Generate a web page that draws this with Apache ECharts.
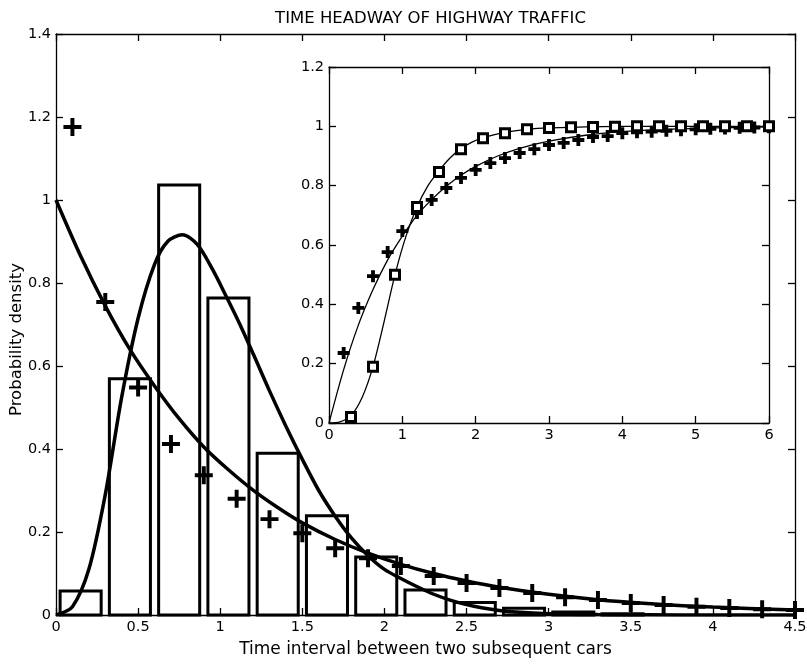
<!DOCTYPE html>
<html>
<head>
<meta charset="utf-8">
<script src="https://cdn.jsdelivr.net/npm/echarts@6/dist/echarts.min.js"></script>
<style>
html,body{margin:0;padding:0;background:#fff;}
#chart{width:807px;height:664px;}
</style>
</head>
<body>
<div id="chart"></div>
<script>
// ---- Main plot data ----
var binCenters = [0.15, 0.45, 0.75, 1.05, 1.35, 1.65, 1.95, 2.25, 2.55, 2.85, 3.15, 3.45];
var binHeights = [0.058, 0.569, 1.036, 0.764, 0.39, 0.239, 0.14, 0.06, 0.03, 0.016, 0.007, 0.003];

var plusX = [0.1, 0.3, 0.5, 0.7, 0.9, 1.1, 1.3, 1.5, 1.7, 1.9, 2.1, 2.3, 2.5, 2.7, 2.9, 3.1, 3.3, 3.5, 3.7, 3.9, 4.1, 4.3, 4.5];
var plusY = [1.176, 0.754, 0.548, 0.412, 0.337, 0.28, 0.231, 0.197, 0.161, 0.137, 0.118, 0.094, 0.077, 0.065, 0.053, 0.043, 0.036, 0.029, 0.024, 0.02, 0.017, 0.014, 0.012];

var expCurveX = [0, 0.15, 0.3, 0.45, 0.6, 0.75, 0.9, 1.05, 1.2, 1.35, 1.5, 1.7, 1.9, 2.1, 2.3, 2.5, 2.7, 3.0, 3.3, 3.6, 4.0, 4.5];
var expCurveY = [1.0, 0.865, 0.745, 0.64, 0.552, 0.473, 0.405, 0.35, 0.301, 0.259, 0.222, 0.182, 0.149, 0.122, 0.1, 0.082, 0.067, 0.05, 0.037, 0.028, 0.019, 0.012];

var gamCurveX = [0, 0.1, 0.2, 0.3, 0.4, 0.5, 0.6, 0.68, 0.77, 0.86, 0.95, 1.04, 1.12, 1.2, 1.3, 1.4, 1.5, 1.6, 1.7, 1.8, 1.9, 2.0, 2.1, 2.2, 2.3, 2.4, 2.5, 2.6, 2.7, 2.8, 3.0, 3.3, 3.6, 4.0, 4.5];
var gamCurveY = [0, 0.02, 0.11, 0.29, 0.525, 0.715, 0.845, 0.9, 0.916, 0.893, 0.835, 0.765, 0.7, 0.63, 0.54, 0.455, 0.375, 0.30, 0.238, 0.185, 0.143, 0.11, 0.088, 0.068, 0.05, 0.036, 0.025, 0.017, 0.011, 0.007, 0.003, 0.001, 0.0004, 0, 0];

// ---- Inset data ----
var insPlusX = [0.2, 0.4, 0.6, 0.8, 1.0, 1.2, 1.4, 1.6, 1.8, 2.0, 2.2, 2.4, 2.6, 2.8, 3.0, 3.2, 3.4, 3.6, 3.8, 4.0, 4.2, 4.4, 4.6, 4.8, 5.0, 5.2, 5.4, 5.6, 5.8, 6.0];
var insPlusY = [0.236, 0.388, 0.495, 0.576, 0.647, 0.708, 0.752, 0.792, 0.826, 0.853, 0.876, 0.893, 0.91, 0.923, 0.937, 0.944, 0.954, 0.964, 0.967, 0.977, 0.98, 0.982, 0.985, 0.987, 0.99, 0.992, 0.993, 0.995, 0.996, 0.997];

var insSqX = [0.3, 0.6, 0.9, 1.2, 1.5, 1.8, 2.1, 2.4, 2.7, 3.0, 3.3, 3.6, 3.9, 4.2, 4.5, 4.8, 5.1, 5.4, 5.7, 6.0];
var insSqY = [0.02, 0.19, 0.5, 0.728, 0.846, 0.923, 0.96, 0.977, 0.99, 0.994, 0.997, 0.998, 0.999, 1.0, 1.0, 1.0, 1.0, 1.0, 1.0, 1.0];

var insExpX = [0, 0.2, 0.4, 0.6, 0.8, 1.0, 1.2, 1.4, 1.6, 1.8, 2.0, 2.3, 2.6, 3.0, 3.5, 4.0, 4.5, 5.0, 5.5, 6.0];
var insExpY = [0, 0.18, 0.33, 0.45, 0.55, 0.63, 0.70, 0.753, 0.798, 0.835, 0.865, 0.9, 0.926, 0.95, 0.97, 0.982, 0.989, 0.993, 0.996, 0.998];

var insGamX = [0, 0.15, 0.3, 0.45, 0.6, 0.75, 0.9, 1.05, 1.2, 1.35, 1.5, 1.65, 1.8, 1.95, 2.1, 2.4, 2.7, 3.0, 3.5, 4.0, 5.0, 6.0];
var insGamY = [0, 0.004, 0.025, 0.085, 0.19, 0.34, 0.5, 0.63, 0.728, 0.8, 0.85, 0.893, 0.925, 0.947, 0.962, 0.98, 0.99, 0.995, 0.998, 1.0, 1.0, 1.0];

// ---- Tick settings ----
var mainXTicks = {min: 0, max: 4.5, interval: 0.5};
var mainYTicks = {min: 0, max: 1.4, interval: 0.2};
var insXTicks = {min: 0, max: 6, interval: 1};
var insYTicks = {min: 0, max: 1.2, interval: 0.2};

function zip(a, b) { return a.map(function (v, i) { return [v, b[i]]; }); }

var FONT = '"DejaVu Sans", Verdana, sans-serif';
var BAR_W = 0.25;
var PLUS_PATH = 'path://M3.9,0 H6.1 V3.9 H10 V6.1 H6.1 V10 H3.9 V6.1 H0 V3.9 H3.9 Z';
var PLUS_PATH_BOLD = 'path://M3.4,0 H6.6 V3.4 H10 V6.6 H6.6 V10 H3.4 V6.6 H0 V3.4 H3.4 Z';

function axisCfg(gridIndex, t, pos, showLabel, z) {
  return {
    type: 'value', gridIndex: gridIndex, position: pos, z: z,
    min: t.min, max: t.max, interval: t.interval,
    axisLine: {show: true, onZero: false, lineStyle: {color: '#000', width: 1.3}},
    axisTick: {show: true, inside: true, length: 7, lineStyle: {color: '#000', width: 1.3}},
    axisLabel: {show: showLabel, color: '#000', fontSize: 14.5, fontFamily: FONT, margin: 5},
    splitLine: {show: false}
  };
}

var xAxes = [
  axisCfg(0, mainXTicks, 'bottom', true, 2),
  axisCfg(0, mainXTicks, 'top', false, 2),
  axisCfg(1, insXTicks, 'bottom', true, 20),
  axisCfg(1, insXTicks, 'top', false, 20)
];
xAxes[0].name = 'Time interval between two subsequent cars';
xAxes[0].nameLocation = 'middle';
xAxes[0].nameGap = 26;
xAxes[0].nameMoveOverlap = false;
xAxes[0].nameTextStyle = {color: '#000', fontSize: 17, fontFamily: FONT};

var yAxes = [
  axisCfg(0, mainYTicks, 'left', true, 2),
  axisCfg(0, mainYTicks, 'right', false, 2),
  axisCfg(1, insYTicks, 'left', true, 20),
  axisCfg(1, insYTicks, 'right', false, 20)
];
yAxes[0].name = 'Probability density';
yAxes[0].nameLocation = 'middle';
yAxes[0].nameGap = 31;
yAxes[0].nameMoveOverlap = false;
yAxes[0].nameTextStyle = {color: '#000', fontSize: 16.5, fontFamily: FONT, padding: [0, 30, 0, 0]};

var chart = echarts.init(document.getElementById('chart'), null, {renderer: 'canvas'});
chart.setOption({
  animation: false,
  backgroundColor: '#fff',
  title: {
    text: 'TIME HEADWAY OF HIGHWAY TRAFFIC',
    left: 425.5, textAlign: 'center', top: 5,
    textStyle: {color: '#000', fontSize: 16.5, fontWeight: 'normal', fontFamily: FONT}
  },
  grid: [
    {left: 56, right: 12, top: 34, bottom: 49, show: false, containLabel: false, outerBoundsMode: 'none'},
    {left: 329, right: 38, top: 67, bottom: 241, show: true, backgroundColor: '#fff', borderWidth: 0, z: 10, containLabel: false, outerBoundsMode: 'none'}
  ],
  xAxis: xAxes,
  yAxis: yAxes,
  series: [
    {
      type: 'custom', xAxisIndex: 0, yAxisIndex: 0, z: 2,
      data: zip(binCenters, binHeights),
      renderItem: function (params, api) {
        var c = api.value(0), h = api.value(1);
        var p0 = api.coord([c - BAR_W / 2, h]);
        var p1 = api.coord([c + BAR_W / 2, 0]);
        return {
          type: 'rect',
          shape: {x: p0[0], y: p0[1], width: p1[0] - p0[0], height: p1[1] - p0[1]},
          style: {fill: 'none', stroke: '#000', lineWidth: 3}
        };
      }
    },
    {
      type: 'line', xAxisIndex: 0, yAxisIndex: 0, z: 3,
      data: zip(gamCurveX, gamCurveY), showSymbol: false, smooth: 0.3,
      lineStyle: {color: '#000', width: 3.5}
    },
    {
      type: 'line', xAxisIndex: 0, yAxisIndex: 0, z: 3,
      data: zip(expCurveX, expCurveY), showSymbol: false, smooth: 0.3,
      lineStyle: {color: '#000', width: 3.5}
    },
    {
      type: 'scatter', xAxisIndex: 0, yAxisIndex: 0, z: 4,
      data: zip(plusX, plusY), symbol: PLUS_PATH, symbolSize: 18,
      itemStyle: {color: '#000', opacity: 1}
    },
    {
      type: 'line', xAxisIndex: 2, yAxisIndex: 2, z: 21,
      data: zip(insExpX, insExpY), showSymbol: false, smooth: 0.3,
      lineStyle: {color: '#000', width: 1.3}
    },
    {
      type: 'line', xAxisIndex: 2, yAxisIndex: 2, z: 21,
      data: zip(insGamX, insGamY), showSymbol: false, smooth: 0.3,
      lineStyle: {color: '#000', width: 1.3}
    },
    {
      type: 'scatter', xAxisIndex: 2, yAxisIndex: 2, z: 22,
      data: zip(insPlusX, insPlusY), symbol: PLUS_PATH_BOLD, symbolSize: 12,
      itemStyle: {color: '#000', opacity: 1}
    },
    {
      type: 'scatter', xAxisIndex: 2, yAxisIndex: 2, z: 23,
      data: zip(insSqX, insSqY), symbol: 'rect', symbolSize: 9,
      itemStyle: {color: '#fff', borderColor: '#000', borderWidth: 3, opacity: 1}
    }
  ]
});
</script>
</body>
</html>
